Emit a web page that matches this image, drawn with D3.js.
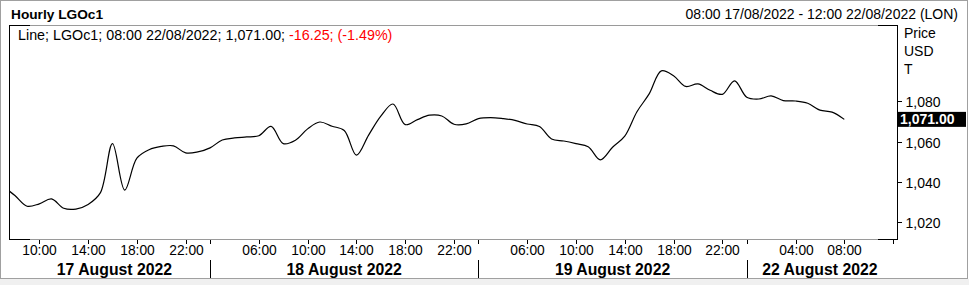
<!DOCTYPE html>
<html>
<head>
<meta charset="utf-8">
<script src="https://cdnjs.cloudflare.com/ajax/libs/d3/7.8.5/d3.min.js"></script>
<style>
  body { margin: 0; background: #fff; }
  svg { display: block; font-family: "Liberation Sans", Arial, sans-serif; }
</style>
</head>
<body>
<div id="chart"></div>
<script>
const WIDTH = 969;
const HEIGHT = 285;

// trading sessions shown on the axis (London hours, gaps between them are skipped)
const sessionDays   = ['17 August 2022', '18 August 2022', '19 August 2022', '22 August 2022'];
const sessionFrom   = [8, 2, 2, 0];
const sessionTo     = [24, 24, 24, 12];
const hourTicks     = [[10, 14, 18, 22], [6, 10, 14, 18, 22], [6, 10, 14, 18, 22], [4, 8, 12]];

// hourly closes, first hour of each array given in priceStart
const priceStart = [7, 2, 2, 0];
const prices17 = [1038, 1033.3, 1028, 1029.2, 1031.6, 1027, 1026.6, 1028.9, 1034.6, 1059, 1036,
                  1051.8, 1056, 1057.6, 1057.9, 1054.4, 1054.9];
const prices18 = [1056.9, 1060.8, 1061.8, 1062.3, 1062.9, 1067.5, 1059, 1060.7, 1066.3, 1069.7, 1067.6,
                  1065.5, 1053.3, 1063.2, 1072.6, 1078.6, 1068.4, 1070.9, 1073.1, 1072.7, 1068.6, 1068.8];
const prices19 = [1071.4, 1071.9, 1071.4, 1070.5, 1068.7, 1067.5, 1061.3, 1060.3, 1059, 1057.5, 1051,
                  1057.2, 1062.7, 1074.8, 1083.6, 1095, 1092.6, 1087.3, 1088.6, 1085.4, 1083.4, 1090.1];
const prices22 = [1082, 1081.1, 1082.6, 1080.3, 1080.1, 1079, 1075.6, 1074.6, 1071];
const priceDays = [prices17, prices18, prices19, prices22];

const yTicks = [1020, 1040, 1060, 1080];
const lastPrice = 1071.00;

const titleText = 'Hourly LGOc1';
const rangeText = '08:00 17/08/2022 - 12:00 22/08/2022 (LON)';
const legendBlack = 'Line; LGOc1; 08:00 22/08/2022; 1,071.00; ';
const legendRed = '-16.25; (-1.49%)';
const unitLines = ['Price', 'USD', 'T'];

// axis position (in trading hours) of the start of each session
const sessionOffset = [];
let acc = 0;
sessionFrom.forEach((f, i) => { sessionOffset.push(acc); acc += sessionTo[i] - f; });
const axisHour = (s, h) => sessionOffset[s] + h - sessionFrom[s];

const series = [];
priceDays.forEach((arr, s) => {
  arr.forEach((v, i) => series.push({ t: axisHour(s, priceStart[s] + i), value: v }));
});

const plot = { left: 9, right: 897, top: 25, bottom: 239 };

const x = d3.scaleLinear().domain([2, 68]).range([39.3, 844.3]);
const y = d3.scaleLinear().domain([1020, 1080]).range([222.4, 101.2]);

const svg = d3.select('#chart').append('svg')
  .attr('width', WIDTH).attr('height', HEIGHT);

// outer frame
svg.append('rect').attr('x', 0).attr('y', 0).attr('width', WIDTH).attr('height', HEIGHT).attr('fill', '#fff');
svg.append('rect').attr('x', 0).attr('y', 279).attr('width', WIDTH).attr('height', 6).attr('fill', '#f0f0f0');
svg.append('rect').attr('x', 0.5).attr('y', 0.5).attr('width', WIDTH - 2).attr('height', 278)
  .attr('fill', 'none').attr('stroke', '#a0a0a0');

// header
svg.append('text').attr('x', 11).attr('y', 19)
  .attr('font-size', '13.7px').attr('font-weight', 'bold').attr('fill', '#000').text(titleText);
svg.append('text').attr('x', 958).attr('y', 19).attr('text-anchor', 'end')
  .attr('font-size', '14px').attr('fill', '#000').text(rangeText);

// plot frame: grey top/bottom, black sides with black corners
[plot.top, plot.bottom].forEach(yy => {
  svg.append('line').attr('x1', plot.left).attr('x2', plot.right).attr('y1', yy + 0.5).attr('y2', yy + 0.5)
    .attr('stroke', '#9a9a9a');
  svg.append('line').attr('x1', plot.left).attr('x2', 30).attr('y1', yy + 0.5).attr('y2', yy + 0.5)
    .attr('stroke', '#000');
  svg.append('line').attr('x1', 878).attr('x2', plot.right + 1).attr('y1', yy + 0.5).attr('y2', yy + 0.5)
    .attr('stroke', '#000');
});
[plot.left, plot.right].forEach(xx => {
  svg.append('line').attr('x1', xx + 0.5).attr('x2', xx + 0.5).attr('y1', plot.top).attr('y2', plot.bottom + 1)
    .attr('stroke', '#000');
});

// legend line
const legend = svg.append('text').attr('x', 18).attr('y', 39.5).attr('font-size', '14.3px');
legend.append('tspan').attr('fill', '#000').text(legendBlack);
legend.append('tspan').attr('fill', '#f00').text(legendRed);

// right axis
unitLines.forEach((t, i) => {
  svg.append('text').attr('x', 904).attr('y', 37.5 + i * 18)
    .attr('font-size', '14px').attr('fill', '#000').text(t);
});
const yAxis = svg.append('g');
yTicks.forEach(v => {
  const yy = Math.round(y(v)) + 0.5;
  yAxis.append('line').attr('x1', plot.right).attr('x2', plot.right + 5).attr('y1', yy).attr('y2', yy)
    .attr('stroke', '#000');
  yAxis.append('text').attr('x', 905.5).attr('y', yy + 5)
    .attr('font-size', '14px').attr('fill', '#000').text(d3.format(',')(v));
});

// current price box
const ly = y(lastPrice);
svg.append('rect').attr('x', 898).attr('y', ly - 7.5).attr('width', 68).attr('height', 15).attr('fill', '#000');
svg.append('text').attr('x', 900).attr('y', ly + 5).attr('font-size', '14px').attr('font-weight', 'bold')
  .attr('fill', '#fff').text(d3.format(',.2f')(lastPrice));

// x axis
const xAxis = svg.append('g');
sessionDays.forEach((label, s) => {
  hourTicks[s].forEach(h => {
    const xx = Math.round(x(axisHour(s, h))) + 0.5;
    xAxis.append('line').attr('x1', xx).attr('x2', xx).attr('y1', 240).attr('y2', 244).attr('stroke', '#000');
    if (xx < plot.right - 10) {
      xAxis.append('text').attr('x', xx).attr('y', 255).attr('text-anchor', 'middle')
        .attr('font-size', '13.8px').attr('fill', '#000').text(String(h).padStart(2, '0') + ':00');
    }
  });
  const x0 = x(sessionOffset[s]);
  const x1 = x(sessionOffset[s] + sessionTo[s] - sessionFrom[s]);
  if (s > 0) {
    const bx = Math.round(x0) + 0.5;
    xAxis.append('line').attr('x1', bx).attr('x2', bx).attr('y1', 240).attr('y2', 244).attr('stroke', '#000');
    xAxis.append('line').attr('x1', bx).attr('x2', bx).attr('y1', 260).attr('y2', 278).attr('stroke', '#000');
  }
  const cx = (Math.max(x0, plot.left) + Math.min(x1, plot.right)) / 2;
  xAxis.append('text').attr('x', cx + (s === 0 ? 2 : 0)).attr('y', 274.5).attr('text-anchor', 'middle')
    .attr('font-size', '15.8px').attr('font-weight', 'bold').attr('fill', '#000').text(label);
});

// price line
svg.append('clipPath').attr('id', 'plotClip').append('rect')
  .attr('x', plot.left + 1).attr('y', plot.top + 1)
  .attr('width', plot.right - plot.left - 1).attr('height', plot.bottom - plot.top - 1);

const line = d3.line()
  .x(d => x(d.t))
  .y(d => y(d.value))
  .curve(d3.curveCatmullRom.alpha(0.5));

svg.append('path')
  .datum(series)
  .attr('clip-path', 'url(#plotClip)')
  .attr('fill', 'none')
  .attr('stroke', '#000')
  .attr('stroke-width', 1.2)
  .attr('d', line);
</script>
</body>
</html>
